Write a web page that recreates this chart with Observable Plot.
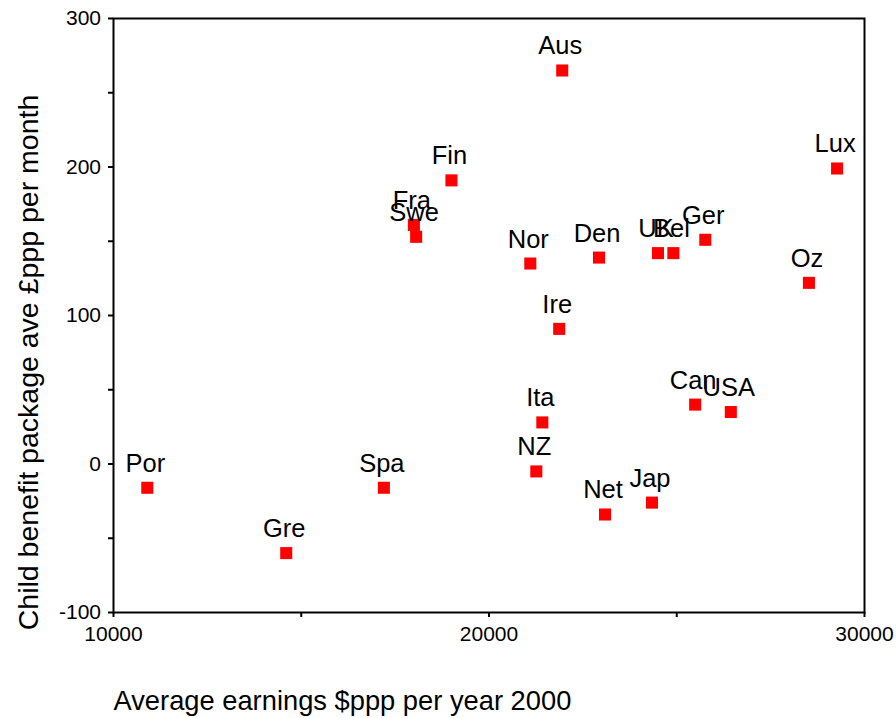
<!DOCTYPE html>
<html>
<head>
<meta charset="utf-8">
<script src="https://cdn.jsdelivr.net/npm/d3@7"></script>
<script src="https://cdn.jsdelivr.net/npm/@observablehq/plot@0.6"></script>
<style>
  html, body { margin: 0; padding: 0; background: #fff; }
  #chart svg { display: block; }
</style>
</head>
<body>
<div id="chart"></div>
<script>
const countries = ["Por","Gre","Spa","Fra","Swe","Fin","Aus","Nor","Den","Ire","Ita","NZ","Net","Jap","UK","Bel","Ger","Can","USA","Oz","Lux"];
const earnings  = [10900,14600,17200,18000,18060,19000,21950,21100,22930,21870,21420,21260,23090,24340,24500,24910,25760,25490,26440,28520,29270];
const benefit   = [-16,-60,-16,161,153,191,265,135,139,91,28,-5,-34,-26,142,142,151,40,35,122,199];

const xTicks = [10000, 15000, 20000, 25000, 30000];
const yTicks = [-100, -50, 0, 50, 100, 150, 200, 250, 300];
const xTitle = "Average earnings $ppp per year 2000";
const yTitle = "Child benefit package ave £ppp per month";

const data = countries.map((c, i) => ({country: c, x: earnings[i], y: benefit[i]}));

const font = "'Liberation Sans', Arial, Helvetica, sans-serif";

const chart = Plot.plot({
  width: 896,
  height: 718,
  marginLeft: 113,
  marginRight: 32,
  marginTop: 18,
  marginBottom: 106,
  style: {fontFamily: font, fontSize: "21px", color: "#000", background: "#fff"},
  x: {domain: [10000, 30000], nice: false},
  y: {domain: [-100, 300], nice: false},
  marks: [
    Plot.frame({stroke: "#000", strokeWidth: 2}),
    Plot.axisX({ticks: xTicks, tickFormat: d => d % 10000 === 0 ? String(d) : "", tickSize: 5, tickPadding: 9, strokeWidth: 2, fontSize: 21, label: null}),
    Plot.axisY({ticks: yTicks, tickFormat: d => d % 100 === 0 ? String(d) : "", tickSize: 5, tickPadding: 7.5, strokeWidth: 2, fontSize: 21, label: null}),
    Plot.dot(data, {x: "x", y: "y", symbol: "square", r: 6.8, fill: "#ff0000", stroke: "none"}),
    Plot.text(data, {x: "x", y: "y", text: "country", dx: -2, dy: -16, lineAnchor: "bottom", fontSize: 25.5, fill: "#000"}),
    Plot.text([xTitle], {frameAnchor: "bottom-left", textAnchor: "start", lineAnchor: "bottom", dy: 97, fontSize: 27.3, fill: "#000"}),
    Plot.text([yTitle], {frameAnchor: "left", rotate: -90, textAnchor: "middle", lineAnchor: "bottom", dx: -76, dy: 47, fontSize: 28.5, fill: "#000"})
  ]
});
document.getElementById("chart").appendChild(chart);
</script>
</body>
</html>
